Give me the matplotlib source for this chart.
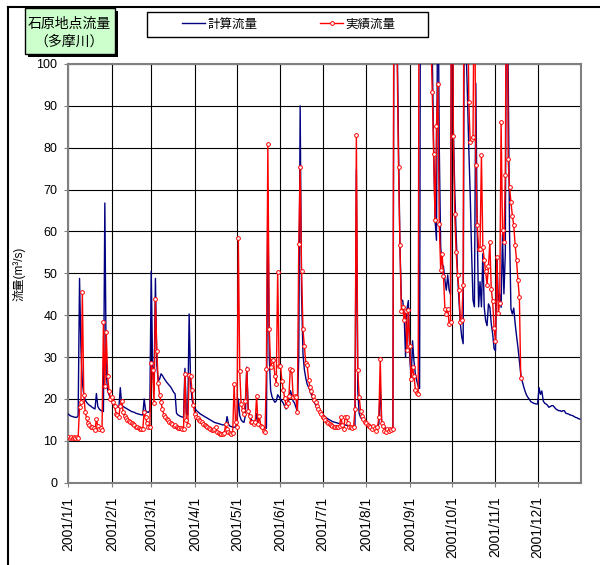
import datetime as dt

import matplotlib
matplotlib.use("Agg")
import matplotlib.pyplot as plt
from matplotlib.lines import Line2D
from matplotlib.patches import Rectangle

plt.rcParams['font.family'] = ['Liberation Sans', 'Noto Sans CJK JP']

# 計算流量 (daily, m3/s), one list per month of 2001
CALC_JAN = [16.4, 16.1, 15.9, 15.8, 15.7, 15.6, 15.6, 16.0, 48.8, 32.0, 24.0, 21.0, 19.8, 19.2, 18.8, 18.5,
            18.3, 18.0, 17.8, 17.6, 21.3, 18.2, 17.6, 17.3, 17.1, 17.0, 66.8, 26.0, 22.0, 21.0, 20.2]
CALC_FEB = [19.5, 19.0, 18.6, 18.4, 18.2, 18.0, 22.7, 18.6, 18.2, 18.0, 17.8, 17.6, 17.4, 17.2, 17.0, 16.9,
            16.8, 16.6, 16.5, 16.4, 16.3, 16.2, 16.2, 20.0, 17.2, 16.9, 16.8, 17.2]
CALC_MAR = [50.5, 28.0, 22.0, 48.8, 28.0, 24.3, 24.8, 26.0, 25.6, 25.0, 24.5, 24.0, 23.6, 23.2, 22.8, 22.2,
            21.6, 21.2, 16.6, 16.2, 16.0, 15.8, 15.7, 15.6, 27.3, 16.5, 16.2, 40.3, 24.0, 20.0, 18.5]
CALC_APR = [17.8, 17.3, 17.0, 16.7, 16.4, 16.2, 16.0, 15.8, 15.6, 15.4, 15.2, 15.0, 14.8, 14.6, 14.4, 14.3,
            14.2, 14.1, 14.0, 13.9, 13.8, 13.8, 13.7, 15.8, 14.0, 13.5, 13.4, 13.3, 13.2, 13.4]
CALC_MAY = [14.0, 20.0, 16.0, 15.0, 14.6, 14.4, 16.0, 27.6, 18.0, 16.0, 15.2, 14.8, 14.5, 14.3, 16.5, 14.2,
            14.0, 13.8, 13.5, 13.3, 13.2, 13.0, 70.3, 30.0, 22.0, 20.5, 19.8, 19.2, 19.5, 21.0, 20.5]
CALC_JUN = [20.0, 19.5, 19.0, 18.2, 17.6, 18.5, 20.0, 22.0, 21.0, 19.5, 19.0, 18.0, 17.0, 30.0, 90.0, 45.0,
            30.8, 27.0, 25.0, 23.5, 22.8, 22.0, 21.0, 20.0, 19.2, 18.6, 18.0, 17.5, 17.0, 16.6]
CALC_JUL = [16.4, 16.0, 15.7, 15.4, 15.2, 15.0, 14.8, 14.6, 14.5, 14.4, 14.3, 14.2, 14.1, 14.0, 13.9, 13.8,
            13.8, 13.7, 13.6, 13.5, 13.4, 13.3, 13.3, 13.2, 74.8, 22.0, 16.5, 15.6, 15.2, 14.8, 14.4]
CALC_AUG = [14.2, 14.0, 13.8, 13.6, 13.5, 13.4, 13.3, 13.2, 13.2, 14.0, 23.2, 14.5, 13.6, 13.2, 12.9, 12.8,
            12.8, 12.8, 12.8, 12.9, 150.0, 140.0, 108.0, 80.0, 57.0, 43.7, 43.5, 40.0, 30.0, 41.5, 43.5]
CALC_SEP = [30.0, 25.0, 33.9, 29.0, 25.9, 24.3, 23.1, 22.5, 200.0, 260.0, 300.0, 280.0, 250.0, 220.0, 180.0,
            150.0, 103.0, 80.0, 62.7, 57.9, 130.0, 80.0, 56.3, 52.3, 51.6, 48.4, 46.0, 49.6, 46.0, 45.0]
CALC_OCT = [150.0, 85.0, 70.0, 59.5, 50.0, 43.6, 38.0, 34.8, 33.2, 140.0, 105.0, 93.0, 80.0, 69.0, 55.0, 43.6,
            42.0, 95.4, 60.0, 42.0, 48.0, 42.0, 54.7, 41.9, 38.7, 37.5, 42.7, 41.9, 38.0, 35.5, 32.0]
CALC_NOV = [31.5, 53.9, 43.5, 45.1, 41.9, 59.4, 45.1, 54.7, 140.0, 100.0, 60.0, 41.5, 40.3, 41.7, 38.0, 35.0,
            32.3, 29.0, 25.9, 24.3, 23.0, 21.9, 21.0, 20.4, 20.0, 19.4, 19.2, 19.0, 18.9, 18.8]
CALC_DEC = [18.8, 22.7, 21.1, 21.9, 19.5, 19.0, 18.8, 18.5, 18.0, 18.2, 18.4, 18.4, 18.0, 17.6, 17.4, 17.2,
            17.2, 17.0, 17.2, 17.2, 16.6, 16.5, 16.4, 16.2, 16.1, 16.0, 15.8, 15.6, 15.5, 15.3, 15.2]

# 実績流量 (daily, m3/s), observed until mid November
OBS_JAN = [10.9, 10.6, 10.8, 10.7, 10.8, 10.7, 10.8, 10.7, 18.0, 19.3, 45.6, 21.0, 17.0, 15.4, 14.2, 13.8,
           13.4, 13.2, 13.0, 12.6, 15.2, 13.5, 12.8, 13.0, 12.6, 38.3, 23.0, 36.0, 25.4, 21.8, 20.0]
OBS_FEB = [20.5, 19.3, 18.2, 16.5, 16.2, 15.8, 18.3, 19.5, 17.0, 16.0, 15.5, 15.0, 14.8, 14.5, 14.2, 14.0,
           13.7, 13.4, 13.2, 13.0, 12.9, 12.8, 12.8, 17.0, 15.6, 14.2, 13.4, 13.2]
OBS_MAR = [28.5, 27.0, 19.0, 43.8, 31.5, 23.7, 21.0, 19.2, 17.5, 16.2, 15.6, 15.2, 14.9, 14.6, 14.3, 14.0,
           13.6, 13.9, 13.4, 13.1, 13.0, 13.1, 12.9, 12.8, 26.0, 15.0, 13.8, 25.8, 25.5, 22.2, 18.6]
OBS_APR = [16.4, 15.8, 15.4, 15.0, 14.7, 14.4, 14.1, 13.8, 13.6, 13.3, 13.1, 12.9, 12.7, 12.5, 12.8, 13.4,
           12.0, 11.8, 11.6, 11.7, 11.6, 11.8, 14.0, 12.8, 12.0, 11.8, 11.6, 11.9, 23.6, 14.4]
OBS_MAY = [13.2, 58.4, 26.6, 18.8, 17.4, 16.4, 19.6, 27.2, 17.2, 16.0, 14.4, 14.4, 14.0, 14.4, 20.7, 14.0,
           15.9, 13.6, 13.2, 12.4, 12.0, 27.2, 81.0, 36.7, 27.6, 29.0, 29.2, 25.6, 23.6, 50.4, 27.8]
OBS_JUN = [27.8, 24.4, 22.2, 20.2, 18.4, 19.0, 20.8, 27.2, 27.0, 20.4, 20.8, 20.4, 16.8, 57.0, 75.4, 50.6,
           36.6, 32.6, 28.6, 28.0, 24.6, 22.8, 22.0, 20.6, 19.8, 19.2, 18.4, 17.6, 17.0, 16.4]
OBS_JUL = [15.8, 15.4, 15.0, 14.6, 14.3, 14.0, 13.8, 13.6, 13.4, 13.3, 13.2, 13.2, 13.6, 15.6, 13.8, 12.8,
           15.8, 15.6, 14.2, 13.2, 13.2, 13.1, 13.2, 17.6, 83.1, 26.8, 20.4, 17.2, 16.0, 15.2, 14.4]
OBS_AUG = [14.2, 13.9, 13.6, 13.2, 12.8, 13.6, 13.0, 12.4, 13.2, 15.6, 29.6, 14.2, 13.6, 12.4, 12.0, 12.8,
           12.4, 12.8, 12.6, 12.8, 180.0, 140.0, 102.0, 75.5, 56.7, 41.0, 41.9, 38.9, 41.0, 31.7, 41.2]
OBS_SEP = [32.6, 24.7, 27.6, 25.5, 22.2, 21.5, 21.1, 200.0, 260.0, 300.0, 280.0, 250.0, 210.0, 160.0, 130.0,
           108.0, 93.4, 78.5, 62.7, 85.2, 95.2, 61.7, 50.9, 54.7, 49.3, 41.6, 40.4, 41.6, 38.0, 38.4]
OBS_OCT = [180.0, 82.8, 64.1, 55.1, 49.7, 46.1, 38.4, 38.8, 47.1, 200.0, 180.0, 130.0, 91.0, 81.4, 82.0, 82.6,
           130.0, 75.9, 61.5, 55.9, 55.7, 78.2, 56.3, 53.3, 50.5, 47.3, 51.7, 57.5, 46.2, 43.3, 36.9]
OBS_NOV = [33.9, 53.9, 40.5, 42.9, 86.2, 60.3, 57.5, 73.4, 150.0, 77.3, 70.6, 67.0, 63.8, 61.5, 56.7, 53.1,
           48.3, 44.3, 24.9]

TICK_DATES = [dt.date(2001, m, 1) for m in range(1, 13)]
TICK_LABELS = ["2001/1/1", "2001/2/1", "2001/3/1", "2001/4/1", "2001/5/1", "2001/6/1",
               "2001/7/1", "2001/8/1", "2001/9/1", "2001/10/1", "2001/11/1", "2001/12/1"]
Y_TICKS = [0, 10, 20, 30, 40, 50, 60, 70, 80, 90, 100]

BLUE = "#000080"
RED = "#FF0000"
W, H = 600, 565


def fx(px):
    return px / W


def fy(py):
    return 1 - py / H


calc = (CALC_JAN + CALC_FEB + CALC_MAR + CALC_APR + CALC_MAY + CALC_JUN
        + CALC_JUL + CALC_AUG + CALC_SEP + CALC_OCT + CALC_NOV + CALC_DEC)
obs = (OBS_JAN + OBS_FEB + OBS_MAR + OBS_APR + OBS_MAY + OBS_JUN
       + OBS_JUL + OBS_AUG + OBS_SEP + OBS_OCT + OBS_NOV)
start = dt.date(2001, 1, 1)
calc_dates = [start + dt.timedelta(days=i) for i in range(len(calc))]
obs_dates = [start + dt.timedelta(days=i) for i in range(len(obs))]

fig = plt.figure(figsize=(6.0, 5.65), dpi=100)
ax = fig.add_axes([fx(68.3), fy(482.7), fx(581.2) - fx(68.3), fy(64) - fy(482.7)])

ax.plot(calc_dates, calc, color=BLUE, lw=1.0, zorder=3)
ax.plot(obs_dates, obs, color=RED, lw=1.0, marker="o", ms=2.7, mew=0.7,
        mfc="white", mec=RED, zorder=4)

ax.set_xlim(dt.date(2001, 1, 1), dt.date(2002, 1, 1))
ax.set_ylim(0, 100)
ax.set_yticks(Y_TICKS)
ax.set_xticks(TICK_DATES)
ax.set_xticklabels(TICK_LABELS, rotation=90, fontsize=10)
ax.tick_params(axis="y", labelsize=9, length=3, pad=5, color="#808080")
ax.tick_params(axis="x", length=3, pad=7, color="#808080")
ax.grid(True, color="black", lw=0.8)
ax.set_axisbelow(True)
for sp in ax.spines.values():
    sp.set_color("#808080")
    sp.set_linewidth(1.5)
ax.set_ylabel("流量(m³/s)", fontsize=8.5, labelpad=8)

# outer chart frame (only left and top edges are visible)
fig.add_artist(Line2D([fx(7.5), fx(7.5)], [0, fy(7)], color="black", lw=1.5))
fig.add_artist(Line2D([fx(7.5), 1], [fy(7), fy(7)], color="black", lw=1.5))

# title box with shadow
fig.add_artist(Rectangle((fx(28), fy(56.5)), fx(89.7), fy(0) - fy(45.7),
                         transform=fig.transFigure, fc="black", ec="none"))
fig.add_artist(Rectangle((fx(25), fy(53.5)), fx(89.7), fy(0) - fy(45.7),
                         transform=fig.transFigure, fc="#CCFFCC", ec="black", lw=1))
fig.text(fx(69.5), fy(24), "石原地点流量", ha="center", va="center", fontsize=10)
fig.text(fx(69.5), fy(42), "（多摩川）", ha="center", va="center", fontsize=10)

# legend
fig.add_artist(Rectangle((fx(147), fy(36.5)), fx(281), fy(0) - fy(24.5),
                         transform=fig.transFigure, fill=False, ec="black", lw=1))
handles = [Line2D([], [], color=BLUE, lw=1.0),
           Line2D([], [], color=RED, lw=1.0, marker="o", ms=2.7, mew=0.7, mfc="white")]
fig.legend(handles, ["計算流量", "実績流量"], loc="center",
           bbox_to_anchor=(fx(289), fy(24.5)), ncol=2, frameon=False, fontsize=9,
           handlelength=1.85, handletextpad=0.2, columnspacing=5.0, borderpad=0.2)

fig.savefig("out.png", dpi=100)
